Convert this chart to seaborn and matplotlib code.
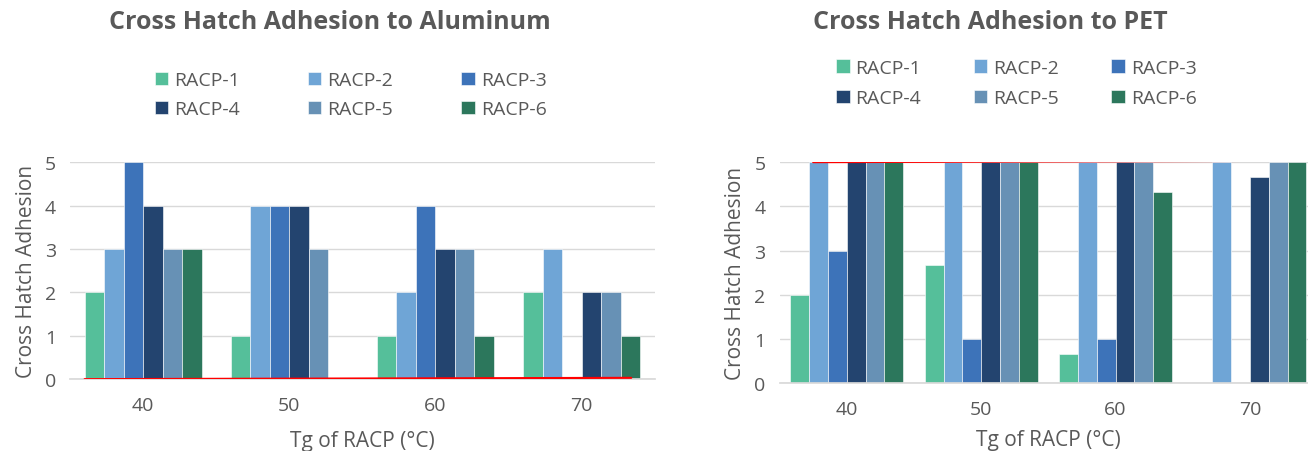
import matplotlib
matplotlib.use("Agg")
from matplotlib import pyplot as plt
import seaborn as sns
import pandas as pd

sns.set_theme(style="white")
plt.rcParams['font.family'] = ['Open Sans', 'DejaVu Sans']

# データ
tg_list = ["40", "50", "60", "70"]
series = ["RACP-1", "RACP-2", "RACP-3", "RACP-4", "RACP-5", "RACP-6"]
alu_vals = {
    "RACP-1": [2, 1, 1, 2],
    "RACP-2": [3, 4, 2, 3],
    "RACP-3": [5, 4, 4, 0],
    "RACP-4": [4, 4, 3, 2],
    "RACP-5": [3, 3, 3, 2],
    "RACP-6": [3, 0, 1, 1],
}
pet_vals = {
    "RACP-1": [2, 2.67, 0.67, 0],
    "RACP-2": [5, 5, 5, 5],
    "RACP-3": [3, 1, 1, 0],
    "RACP-4": [5, 5, 5, 4.67],
    "RACP-5": [5, 5, 5, 5],
    "RACP-6": [5, 5, 4.33, 5],
}
# 赤い線(手描きの目安線)
red_alu_x = [-0.4, 3.34]
red_alu_y = [0, 0.03]
red_pet_x = [-0.25, 3.23]
red_pet_y = [5, 5.03]

colors = ["#55BF9A", "#6FA5D6", "#3D73B9", "#23446F", "#6791B5", "#2C775C"]
gray = "#595959"


def long_table(vals):
    rows = []
    for s in series:
        for t, v in zip(tg_list, vals[s]):
            rows.append({"Tg": t, "series": s, "val": v})
    return pd.DataFrame(rows)


def draw(ax, vals, title, rx, ry, width, leg_xy, cs, ls, title_x, xpad):
    df = long_table(vals)
    sns.barplot(data=df, x="Tg", y="val", hue="series", palette=colors,
                saturation=1, width=width, ax=ax, errorbar=None,
                edgecolor="white", linewidth=0.4)
    ax.plot(rx, ry, color="#FF0000", lw=1.5, zorder=5)
    ax.set_xlim(-0.5, len(tg_list) - 0.5)
    ax.set_ylim(0, 5)
    ax.set_yticks(range(6))
    ax.yaxis.grid(True, color="#D9D9D9", lw=1)
    ax.set_axisbelow(True)
    for sp in ["top", "right", "left"]:
        ax.spines[sp].set_visible(False)
    ax.spines["bottom"].set_color("#D9D9D9")
    ax.tick_params(axis="both", colors=gray, labelsize=14, length=0)
    ax.tick_params(axis="x", pad=12)
    ax.tick_params(axis="y", pad=10)
    ax.set_xlabel("Tg of RACP (°C)", color=gray, fontsize=15, labelpad=xpad)
    ax.set_ylabel("Cross Hatch Adhesion", color=gray, fontsize=15, labelpad=6)
    fig.text(title_x, 0.951, title, color=gray, fontsize=18, fontweight="bold",
             ha="center", va="center")
    # 凡例は行方向に並べる
    h, l = ax.get_legend_handles_labels()
    order = [0, 3, 1, 4, 2, 5]
    ax.legend([h[i] for i in order], [l[i] for i in order], ncol=3,
              loc="center", bbox_to_anchor=leg_xy, bbox_transform=fig.transFigure,
              frameon=False, fontsize=14, handlelength=0.7, handleheight=0.7,
              handletextpad=0.3, columnspacing=cs, labelspacing=ls,
              labelcolor=gray)


fig = plt.figure(figsize=(13.08, 4.52), dpi=100)
ax1 = fig.add_axes([0.0535, 0.159, 0.447, 0.480])
ax2 = fig.add_axes([0.596, 0.150, 0.411, 0.489])

draw(ax1, alu_vals, "Cross Hatch Adhesion to Aluminum", red_alu_x, red_alu_y,
     0.8, (0.268, 0.788), 3.5, 0.55, 0.252, 12)
draw(ax2, pet_vals, "Cross Hatch Adhesion to PET", red_pet_x, red_pet_y,
     0.84, (0.777, 0.814), 2.7, 0.65, 0.757, 8)

plt.savefig("out.png", dpi=100)
